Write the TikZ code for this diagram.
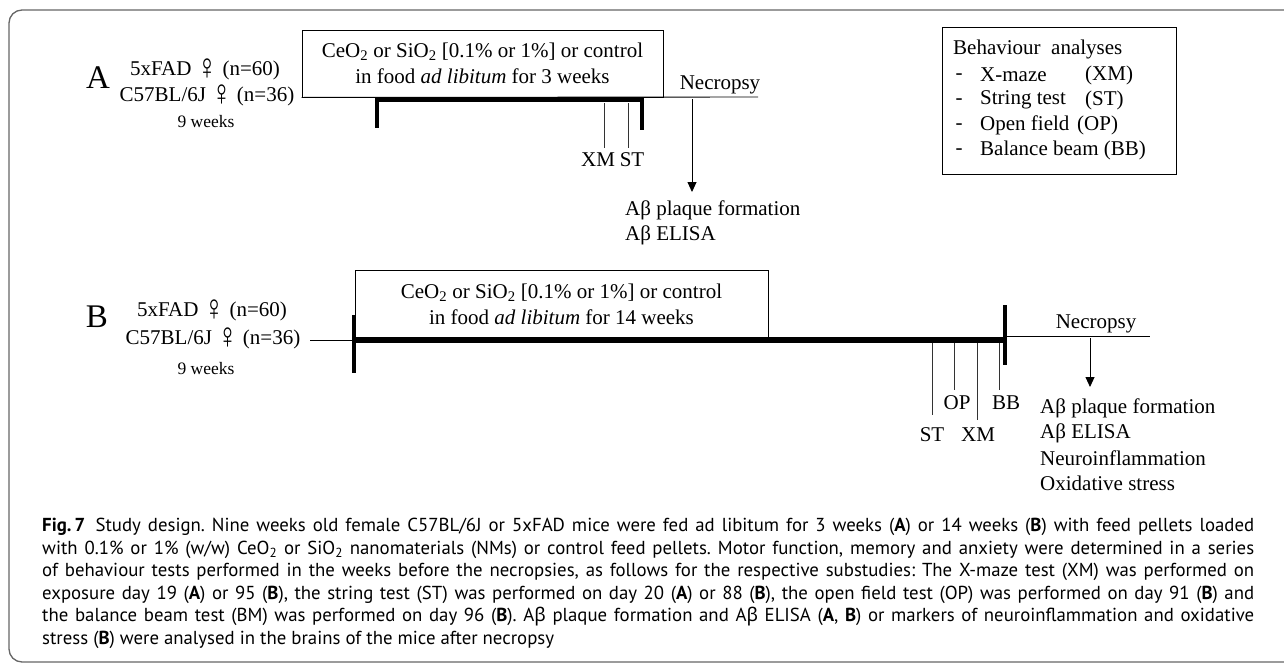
\documentclass[tikz,border=0pt]{standalone}
\usepackage{fontspec}
\setmainfont{Liberation Serif}
\newfontfamily\capfont{PT Sans}
\newfontfamily\grkfont{Noto Sans}
\usetikzlibrary{arrows.meta}
\newcommand{\femsym}{\raisebox{-4.5pt}[10pt][0pt]{\scalebox{1.3}[1.75]{\fontsize{21}{21}\selectfont ♀}}}
\newcommand{\grb}{{\grkfont β}}
\newcommand{\capline}[1]{\makebox[1212pt][s]{#1}}
\begin{document}
\begin{tikzpicture}[x=1pt,y=-1pt,
  lbl/.style={font=\fontsize{21}{25}\selectfont, inner sep=0pt},
  small/.style={font=\fontsize{17.5}{20}\selectfont, inner sep=0pt},
  panel/.style={font=\fontsize{33}{36}\selectfont, inner sep=0pt},
  boxnode/.style={draw, line width=0.9pt, inner sep=0pt, align=center, font=\fontsize{21}{26}\selectfont},
  thinl/.style={line width=0.9pt},
  bar/.style={line width=5.5pt},
  endtick/.style={line width=3.5pt},
  testtick/.style={line width=0.8pt, black!80},
  arr/.style={line width=0.9pt, -{Triangle[width=9pt,length=10pt]}}
]
\useasboundingbox (0,0) rectangle (1284,664);
\fill[white] (0,0) rectangle (1284,664);
\draw[black!60, line width=1.3pt, rounded corners=13pt] (9,10) rectangle (1310,662);

% ---------- Panel A ----------
\node[panel] (A) at (98,78) {A};
\node[lbl] (gA1) at (205,70) {5xFAD \femsym{} (n=60)};
\node[lbl] (gA2) at (207,96) {C57BL/6J \femsym{} (n=36)};
\node[small] (wA) at (206,122) {9 weeks};
\node[boxnode, minimum width=361pt, minimum height=67pt] (boxA) at (482.5,63.5)
  {CeO\textsubscript{2} or SiO\textsubscript{2} [0.1\% or 1\%] or control\\in food \textit{ad libitum} for 3 weeks};
\coordinate (aEnd) at (758,97);
\draw[thinl] (boxA.south west) -- (aEnd);
\coordinate (aS) at (377,99.5);
\coordinate (aE) at (642,99.5);
\draw[bar] (aS) -- (aE);
\draw[endtick] (377,97) -- (377,128);
\draw[endtick] (642,97) -- (642,130);
\node[lbl] (xmA) at (598,160) {XM};
\node[lbl] (stA) at (632,160) {ST};
\draw[testtick] (604,103) -- (604,148);
\draw[testtick] (628,103) -- (628,148);
\node[lbl] (necA) at (720,85) {Necropsy};
\node[lbl, anchor=west] (resA1) at (625,210) {Aβ plaque formation};
\node[lbl, anchor=west] (resA2) at (625,235) {Aβ ELISA};
\draw[arr] (692,99) -- (692,192);

% ---------- Panel B ----------
\node[panel] (B) at (97,317) {B};
\node[lbl] (gB1) at (212,311) {5xFAD \femsym{} (n=60)};
\node[lbl] (gB2) at (213,339) {C57BL/6J \femsym{} (n=36)};
\node[small] (wB) at (206,369) {9 weeks};
\node[boxnode, minimum width=413pt, minimum height=68pt] (boxB) at (561.5,304)
  {CeO\textsubscript{2} or SiO\textsubscript{2} [0.1\% or 1\%] or control\\in food \textit{ad libitum} for 14 weeks};
\draw[thinl] (310,340) -- (354,340);
\draw[bar] (354,340) -- (1005,340);
\draw[endtick] (354,315) -- (354,373);
\draw[endtick] (1005,305) -- (1005,365);
\draw[thinl] (1005,336) -- (1150,336);
\node[lbl] (necB) at (1096,324) {Necropsy};
\draw[arr] (1090,338) -- (1090,387);
\node[lbl] (stB) at (932,435) {ST};
\node[lbl] (opB) at (957,403) {OP};
\node[lbl] (xmB) at (978,435) {XM};
\node[lbl] (bbB) at (1006,403) {BB};
\draw[testtick] (932,343) -- (932,415);
\draw[testtick] (954,343) -- (954,390);
\draw[testtick] (977,343) -- (977,420);
\draw[testtick] (999,343) -- (999,390);
\node[lbl, anchor=west] (resB1) at (1040,408) {Aβ plaque formation};
\node[lbl, anchor=west] (resB2) at (1040,433) {Aβ ELISA};
\node[lbl, anchor=west] (resB3) at (1040,458) {Neuroinflammation};
\node[lbl, anchor=west] (resB4) at (1040,483) {Oxidative stress};

% ---------- Behaviour box ----------
\draw[line width=0.9pt] (942,27) rectangle (1176,174);
\node[lbl, anchor=west] (bh) at (953,49) {Behaviour\ \ analyses};
\foreach \yy/\nm in {75/d1,100/d2,125/d3,150/d4}{
  \node[lbl] (\nm) at (959,\yy+2) {-};
}
\node[lbl, anchor=west] (i1) at (980,75) {X-maze};
\node[lbl, anchor=west] (p1) at (1085,75) {(XM)};
\node[lbl, anchor=west] (i2) at (980,100) {String test};
\node[lbl, anchor=west] (p2) at (1085,100) {(ST)};
\node[lbl, anchor=west] (i3) at (980,125) {Open field};
\node[lbl, anchor=west] (p3) at (1077,125) {(OP)};
\node[lbl, anchor=west] (i4) at (980,150) {Balance beam (BB)};

% ---------- Caption ----------
\node[anchor=north west, inner sep=0pt, align=left,
      font=\capfont\fontsize{18.8}{22.6}\selectfont\frenchspacing] (cap) at (42,518)
{\capline{\textbf{Fig.\,7}\hspace{0.55em}Study design. Nine weeks old female C57BL/6J or 5xFAD mice were fed ad libitum for 3 weeks (\textbf{A}) or 14 weeks (\textbf{B}) with feed pellets loaded}\\
\capline{with 0.1\% or 1\% (w/w) CeO\textsubscript{2} or SiO\textsubscript{2} nanomaterials (NMs) or control feed pellets. Motor function, memory and anxiety were determined in a series}\\
\capline{of behaviour tests performed in the weeks before the necropsies, as follows for the respective substudies: The X-maze test (XM) was performed on}\\
\capline{exposure day 19 (\textbf{A}) or 95 (\textbf{B}), the string test (ST) was performed on day 20 (\textbf{A}) or 88 (\textbf{B}), the open field test (OP) was performed on day 91 (\textbf{B}) and}\\
\capline{the balance beam test (BM) was performed on day 96 (\textbf{B}). A\grb{} plaque formation and A\grb{} ELISA (\textbf{A}, \textbf{B}) or markers of neuroinflammation and oxidative}\\
stress (\textbf{B}) were analysed in the brains of the mice after necropsy};
\end{tikzpicture}
\end{document}
